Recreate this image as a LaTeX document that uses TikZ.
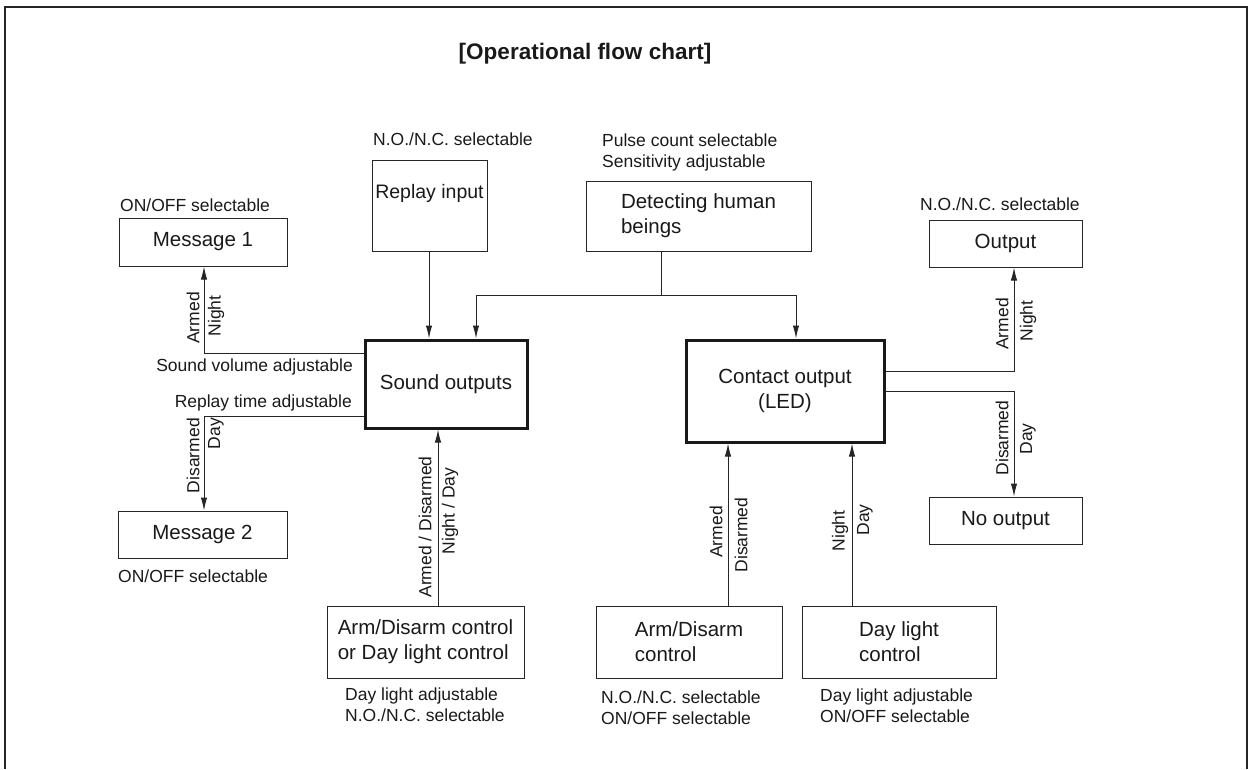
\documentclass[tikz,border=0pt]{standalone}
\usepackage{fontspec}
\setmainfont{Liberation Sans}
\usetikzlibrary{arrows.meta}
\begin{document}
\begin{tikzpicture}[x=1pt,y=-1pt,
  every node/.style={inner sep=0pt, text=black!90},
  box/.style={draw=black!85, line width=1pt, align=center, font=\fontsize{20.5}{25}\selectfont},
  bigbox/.style={draw=black!90, line width=3pt, align=center, font=\fontsize{20.5}{25}\selectfont},
  note/.style={font=\fontsize{17.5}{21}\selectfont, align=left},
  vlab/.style={font=\fontsize{17.5}{21}\selectfont, rotate=90},
  conn/.style={draw=black!85, line width=1pt},
  arr/.style={conn, -{Latex[length=13pt,width=6.5pt]}}
]
\useasboundingbox (0,0) rectangle (1249,769);
% frame
\draw[line width=2pt, black!85] (5,769) -- (5,7) -- (1247,7) -- (1247,769);
\node[font=\fontsize{22.5}{27}\selectfont\bfseries] (title) at (585,54) {[Operational flow chart]};

% boxes
\node[box, minimum width=168pt, minimum height=48pt] (m1) at (203,242) {Message 1};
\node[box, minimum width=115pt, minimum height=91pt, font=\fontsize{19.5}{23}\selectfont, text depth=28pt] (rep) at (429.5,205.5) {Replay input};
\node[box, minimum width=225pt, minimum height=70pt, align=left] (det) at (698.5,216) {Detecting human\\beings};
\node[box, minimum width=153pt, minimum height=47pt] (out) at (1005.5,243.5) {Output};
\node[bigbox, minimum width=162pt, minimum height=88pt] (snd) at (446,384) {Sound outputs};
\node[bigbox, minimum width=198pt, minimum height=102pt] (con) at (785,391) {Contact output\\(LED)};
\node[box, minimum width=153pt, minimum height=47pt] (nout) at (1005.5,520.5) {No output};
\node[box, minimum width=169pt, minimum height=47pt] (m2) at (202.5,534.5) {Message 2};
\node[box, minimum width=197pt, minimum height=72pt, align=left] (b1) at (425.5,642) {Arm/Disarm control\\or Day light control};
\node[box, minimum width=186pt, minimum height=72pt, align=left] (b2) at (689,642) {Arm/Disarm\\control};
\node[box, minimum width=194pt, minimum height=72pt, align=left] (b3) at (899,642) {Day light\\control};

% notes
\node[note, anchor=west] (n1) at (120,205) {ON/OFF selectable};
\node[note, anchor=west] (n2) at (373,139) {N.O./N.C. selectable};
\node[note, anchor=west] (n3) at (602,152.5) {Pulse count selectable\\Sensitivity adjustable};
\node[note, anchor=west] (n4) at (920,204) {N.O./N.C. selectable};
\node[note, anchor=east] (n5) at (353,367) {Sound volume adjustable};
\node[note, anchor=east] (n6) at (352,403) {Replay time adjustable};
\node[note, anchor=west] (n7) at (118,576) {ON/OFF selectable};
\node[note, anchor=west] (n8) at (345,705) {Day light adjustable\\N.O./N.C. selectable};
\node[note, anchor=west] (n9) at (601,707.5) {N.O./N.C. selectable\\ON/OFF selectable};
\node[note, anchor=west] (n10) at (820,706) {Day light adjustable\\ON/OFF selectable};

% connectors
\coordinate (dj) at (661,295);
\coordinate (djl) at (476,295);
\coordinate (djr) at (796,295);
\draw[conn] (det.south -| dj) -- (dj);
\draw[arr] (dj) -- (djl) -- (djl |- snd.north);
\draw[arr] (dj) -- (djr) -- (djr |- con.north);
\draw[arr] (rep.south -| 429,0) -- (429,0 |- snd.north);

\coordinate (s1) at (204,353);
\coordinate (s2) at (204,416);
\draw[arr] (snd.west |- s1) -- (s1) -- (s1 |- m1.south);
\draw[arr] (snd.west |- s2) -- (s2) -- (s2 |- m2.north);

\coordinate (c1) at (1014,371);
\coordinate (c2) at (1014,391);
\draw[arr] (con.east |- c1) -- (c1) -- (c1 |- out.south);
\draw[arr] (con.east |- c2) -- (c2) -- (c2 |- nout.north);

\coordinate (b1x) at (438,0);
\coordinate (b2x) at (728,0);
\coordinate (b3x) at (852,0);
\draw[arr] (b1.north -| b1x) -- (b1x |- snd.south);
\draw[arr] (b2.north -| b2x) -- (b2x |- con.south);
\draw[arr] (b3.north -| b3x) -- (b3x |- con.south);

% rotated labels
\node[vlab] (l1) at (193,318) {Armed};
\node[vlab] (l2) at (216,316) {Night};
\node[vlab, anchor=east] (l3) at (193,418) {Disarmed};
\node[vlab, anchor=east] (l4) at (216,418) {Day};
\node[vlab] (l5) at (1002,324) {Armed};
\node[vlab] (l6) at (1028,321) {Night};
\node[vlab] (l7) at (1002,438) {Disarmed};
\node[vlab] (l8) at (1028,439) {Day};
\node[vlab] (l9) at (425,527) {Armed / Disarmed};
\node[vlab] (l10) at (450,511) {Night / Day};
\node[vlab] (l11) at (716,532) {Armed};
\node[vlab] (l12) at (741,535) {Disarmed};
\node[vlab] (l13) at (840,531) {Night};
\node[vlab] (l14) at (865,520) {Day};
\end{tikzpicture}
\end{document}
